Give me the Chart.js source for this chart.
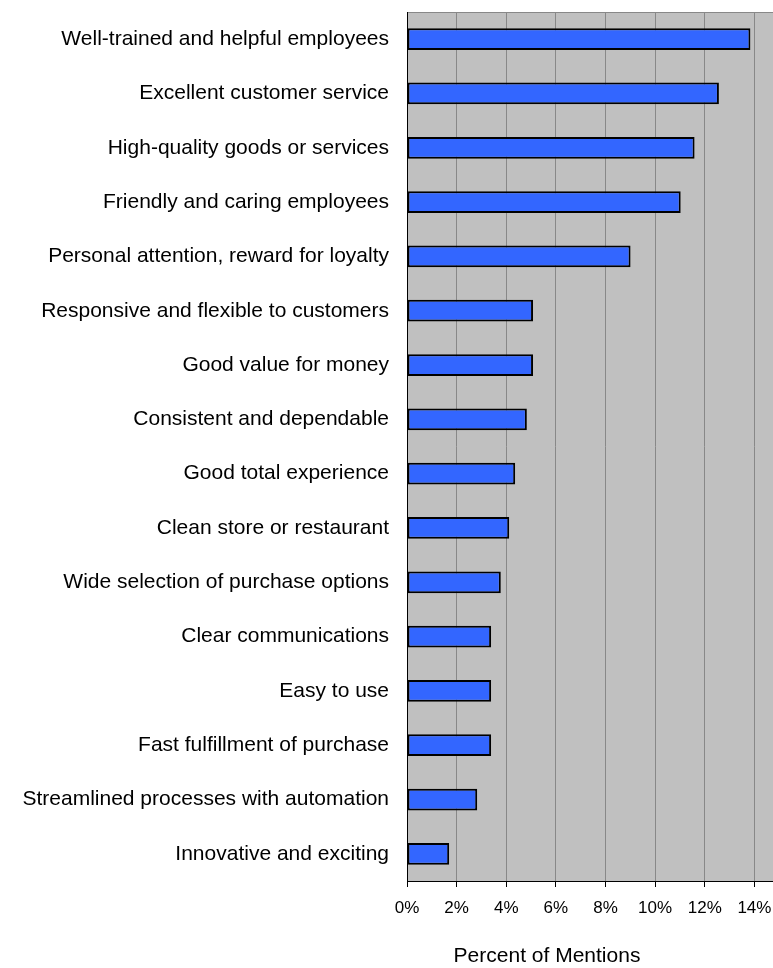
<!DOCTYPE html>
<html>
<head>
<meta charset="utf-8">
<script src="https://cdn.jsdelivr.net/npm/chart.js@4.4.1/dist/chart.umd.min.js"></script>
<style>
  html, body { margin: 0; padding: 0; background: #fff; }
  #wrap { width: 773px; height: 968px; position: relative; }
</style>
</head>
<body>
<div id="wrap"><canvas id="chart"></canvas></div>
<script>

const LABELS = [
       "Well-trained and helpful employees",
       "Excellent customer service",
       "High-quality goods or services",
       "Friendly and caring employees",
       "Personal attention, reward for loyalty",
       "Responsive and flexible to customers",
       "Good value for money",
       "Consistent and dependable",
       "Good total experience",
       "Clean store or restaurant",
       "Wide selection of purchase options",
       "Clear communications",
       "Easy to use",
       "Fast fulfillment of purchase",
       "Streamlined processes with automation",
       "Innovative and exciting"
]

const VALUES = [13.84, 12.57, 11.59, 11.03, 9.01, 5.08, 5.08, 4.83, 4.36, 4.12, 3.78, 3.39, 3.39, 3.39, 2.83, 1.70]

const X_TICKS = [0, 2, 4, 6, 8, 10, 12, 14]

const X_TITLE = "Percent of Mentions"

const FONT = "'Liberation Sans', Arial, sans-serif"


// grey plot background, grey top line and the axis title under the ticks
const plotBackground = {
       id: "plotBackground",
       beforeDraw(chart) {
              const { ctx, chartArea: a } = chart
              ctx.save()
              ctx.fillStyle = "#c0c0c0"
              ctx.fillRect(a.left, a.top, a.right - a.left, a.bottom - a.top)
              ctx.strokeStyle = "#888"
              ctx.lineWidth = 1
              ctx.beginPath()
              ctx.moveTo(a.left, a.top + 0.5)
              ctx.lineTo(a.right, a.top + 0.5)
              ctx.stroke()
              ctx.restore()
       },
       afterDraw(chart) {
              const { ctx } = chart
              ctx.save()
              ctx.fillStyle = "#000"
              ctx.font = "21px " + FONT
              ctx.textAlign = "center"
              ctx.textBaseline = "middle"
              ctx.fillText(X_TITLE, 547, 956)
              ctx.restore()
       }
}


new Chart(document.getElementById("chart"), {
       type: "bar",
       data: {
              labels: LABELS,
              datasets: [{
                     data: VALUES,
                     backgroundColor: "#3366ff",
                     borderColor: "#000",
                     borderWidth: 2,
                     borderSkipped: false,
                     barPercentage: 0.8,
                     categoryPercentage: 0.5
              }]
       },
       options: {
              indexAxis: "y",
              responsive: true,
              maintainAspectRatio: false,
              animation: false,
              layout: { padding: { top: 12, right: 0, bottom: 0, left: 0 } },
              plugins: {
                     legend: { display: false },
                     tooltip: { enabled: false }
              },
              scales: {
                     x: {
                            min: 0,
                            max: 14.75,
                            afterBuildTicks: scale => {
                                   scale.ticks = X_TICKS.map(v => ({ value: v }))
                            },
                            afterFit: scale => {
                                   scale.height = 87
                                   scale.paddingLeft = 0
                                   scale.paddingRight = 0
                            },
                            grid: {
                                   color: "#888",
                                   tickColor: "#000",
                                   tickLength: 6
                            },
                            border: { color: "#000", width: 1 },
                            ticks: {
                                   color: "#000",
                                   padding: 11,
                                   maxRotation: 0,
                                   font: { family: FONT, size: 17 },
                                   callback: v => v + "%"
                            }
                     },
                     y: {
                            afterFit: scale => {
                                   scale.width = 407
                                   scale.paddingTop = 0
                                   scale.paddingBottom = 0
                            },
                            grid: { display: false, drawTicks: false },
                            border: { color: "#000", width: 1 },
                            ticks: {
                                   color: "#000",
                                   padding: 18,
                                   font: { family: FONT, size: 21 }
                            }
                     }
              }
       },
       plugins: [plotBackground]
})

</script>
</body>
</html>
